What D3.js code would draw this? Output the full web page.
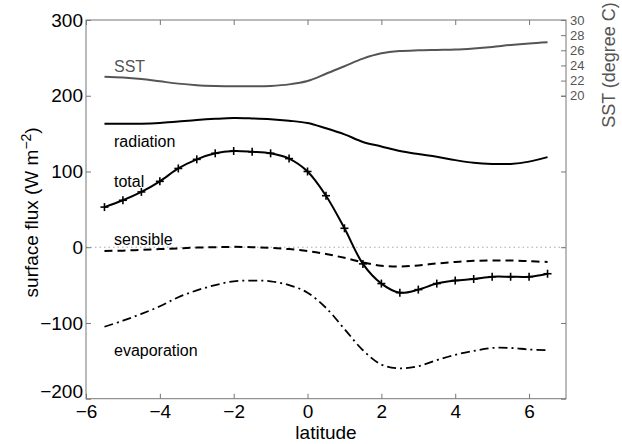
<!DOCTYPE html>
<html><head><meta charset="utf-8">
<script src="https://cdn.jsdelivr.net/npm/d3@7"></script>
<style>body{margin:0;background:#fff;} text{font-family:"Liberation Sans",Arial,sans-serif;}</style>
</head><body>
<svg id="c" width="622" height="444"></svg>
<script>
const lat = [-5.5,-5,-4.5,-4,-3.5,-3,-2.5,-2,-1.5,-1,-0.5,0,0.5,1,1.5,2,2.5,3,3.5,4,4.5,5,5.5,6,6.5];
const total = [53,62,73,87,104,116,124,127,126,124,117,100,68,25,-22,-48,-60,-56,-48,-44,-42,-39,-39,-39,-35];
const radiation = [163,163,163,164,166,168,169.5,170.5,170,169,167,164,157,149,139,133,127,123,119.5,115,111.5,110,110,113,119];
const sensible = [-5,-4.5,-3.5,-2.5,-1.5,-0.5,0,0.5,0,-1,-2.5,-5,-9,-14,-20,-24.5,-25.5,-24,-21.5,-19.5,-18,-17.5,-17.5,-18.5,-19.5];
const evaporation = [-105,-97,-88,-78,-66,-57,-50,-45,-44,-45,-50,-60,-80,-108,-136,-155,-160,-157,-149,-142,-137,-133,-133,-135,-136];
const sst = [22.5,22.4,22.2,21.9,21.6,21.4,21.3,21.25,21.25,21.3,21.5,21.95,22.9,23.9,24.9,25.6,25.9,26.0,26.05,26.1,26.25,26.45,26.7,26.9,27.05];
const xTicks = [-6,-4,-2,0,2,4,6];
const yTicks = [-200,-100,0,100,200,300];
const sstTicks = [20,22,24,26,28,30];

const svg = d3.select("#c");
const L=86,R=566,T=20,B=398.7;
const x = d3.scaleLinear([-6,7],[L,R]);
const y = d3.scaleLinear([-200,300],[B,T]);
const ys = d3.scaleLinear([-20,30],[B,T]);
const axisCol="#777";

svg.append("line").attr("x1",L).attr("x2",R).attr("y1",y(0)).attr("y2",y(0))
  .attr("stroke","#aaa").attr("stroke-width",1).attr("stroke-dasharray","1.5,3");

function styleAxis(g){g.select(".domain").remove();g.selectAll(".tick line").attr("stroke",axisCol);
  g.selectAll("text").attr("font-size",19).attr("fill","#000");}
svg.append("g").attr("transform",`translate(0,${B})`)
  .call(d3.axisBottom(x).tickValues(xTicks).tickSizeInner(-5).tickSizeOuter(0).tickPadding(6)).call(styleAxis);
svg.append("g").attr("transform",`translate(0,${T})`)
  .call(d3.axisTop(x).tickValues(xTicks).tickSizeInner(-5).tickSizeOuter(0).tickFormat("")).call(styleAxis);
const la = svg.append("g").attr("transform",`translate(${L},0)`)
  .call(d3.axisLeft(y).tickValues(yTicks).tickSizeInner(-5).tickSizeOuter(0).tickPadding(3)).call(styleAxis);
la.selectAll(".tick text").filter(d=>d===-200).attr("dy","-0.05em");
svg.append("g").attr("transform",`translate(${R},0)`)
  .call(d3.axisRight(y).tickValues(yTicks).tickSizeInner(-5).tickSizeOuter(0).tickFormat("")).call(styleAxis);
const sa = svg.append("g").attr("transform",`translate(${R},0)`)
  .call(d3.axisRight(ys).tickValues(sstTicks).tickSizeInner(-5).tickSizeOuter(0).tickPadding(4)).call(styleAxis);
sa.selectAll("text").attr("font-size",13).attr("fill","#555");

svg.append("rect").attr("x",L).attr("y",T).attr("width",R-L).attr("height",B-T)
  .attr("fill","none").attr("stroke",axisCol).attr("stroke-width",1);

const line = (yy)=>d3.line().x((d,i)=>x(lat[i])).y(d=>yy(d)).curve(d3.curveCatmullRom.alpha(0.5));

svg.append("path").attr("d",line(ys)(sst)).attr("fill","none").attr("stroke","#555").attr("stroke-width",2);
svg.append("path").attr("d",line(y)(radiation)).attr("fill","none").attr("stroke","#000").attr("stroke-width",2);
svg.append("path").attr("d",line(y)(total)).attr("fill","none").attr("stroke","#000").attr("stroke-width",2);
svg.append("path").attr("d",line(y)(sensible)).attr("fill","none").attr("stroke","#000").attr("stroke-width",2).attr("stroke-dasharray","8,5");
svg.append("path").attr("d",line(y)(evaporation)).attr("fill","none").attr("stroke","#000").attr("stroke-width",1.8).attr("stroke-dasharray","9,4,2,4");

const m = svg.append("g").attr("stroke","#000").attr("stroke-width",1.6);
total.forEach((v,i)=>{const cx=x(lat[i]),cy=y(v);
  m.append("line").attr("x1",cx-4).attr("x2",cx+4).attr("y1",cy).attr("y2",cy);
  m.append("line").attr("x1",cx).attr("x2",cx).attr("y1",cy-4).attr("y2",cy+4);});

const lab=[["SST",72,"#555"],["radiation",147,"#000"],["total",187,"#000"],["sensible",245,"#000"],["evaporation",356,"#000"]];
lab.forEach(([t,yy,c])=>svg.append("text").attr("x",114).attr("y",yy).attr("font-size",16).attr("fill",c).text(t));

svg.append("text").attr("x",(L+R)/2).attr("y",439).attr("text-anchor","middle").attr("font-size",19).text("latitude");
const yl=svg.append("text").attr("transform",`translate(38,${(T+B)/2+3}) rotate(-90)`).attr("text-anchor","middle").attr("font-size",19);
yl.append("tspan").text("surface flux (W m");
yl.append("tspan").attr("dy",-7).attr("font-size",14).text("−2");
yl.append("tspan").attr("dy",7).text(")");
svg.append("text").attr("transform",`translate(615,65) rotate(-90)`).attr("text-anchor","middle").attr("font-size",18).attr("fill","#555").text("SST (degree C)");
</script>
</body></html>
